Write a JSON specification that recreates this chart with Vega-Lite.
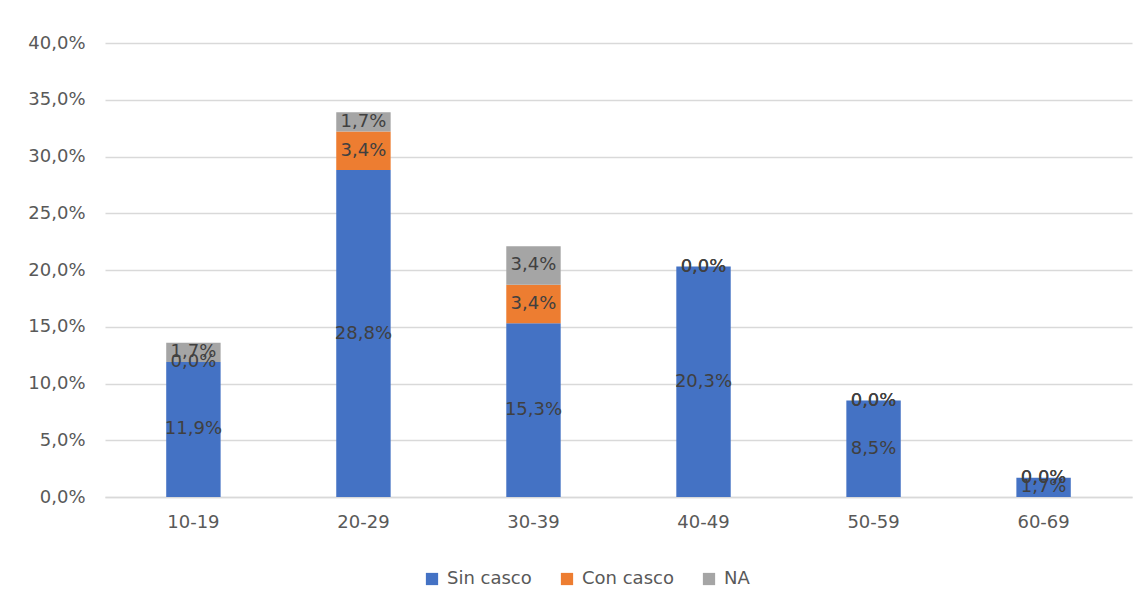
{
  "$schema": "https://vega.github.io/schema/vega-lite/v6.json",
  "autosize": {"type": "none"},
  "width": 1027,
  "height": 454,
  "padding": {"left": 105, "top": 43, "right": 14, "bottom": 115},
  "background": "white",
  "config": {
    "locale": {"number": {"decimal": ",", "thousands": ".", "grouping": [3], "currency": ["", " €"]}},
    "font": "DejaVu Sans",
    "view": {"stroke": null}
  },
  "data": {
    "values": [
      {"edad": "10-19", "grupo": "Sin casco", "orden": 1, "v": 0.119},
      {"edad": "10-19", "grupo": "Con casco", "orden": 2, "v": 0.0},
      {"edad": "10-19", "grupo": "NA", "orden": 3, "v": 0.017},
      {"edad": "20-29", "grupo": "Sin casco", "orden": 1, "v": 0.288},
      {"edad": "20-29", "grupo": "Con casco", "orden": 2, "v": 0.034},
      {"edad": "20-29", "grupo": "NA", "orden": 3, "v": 0.017},
      {"edad": "30-39", "grupo": "Sin casco", "orden": 1, "v": 0.153},
      {"edad": "30-39", "grupo": "Con casco", "orden": 2, "v": 0.034},
      {"edad": "30-39", "grupo": "NA", "orden": 3, "v": 0.034},
      {"edad": "40-49", "grupo": "Sin casco", "orden": 1, "v": 0.203},
      {"edad": "40-49", "grupo": "Con casco", "orden": 2, "v": 0.0},
      {"edad": "40-49", "grupo": "NA", "orden": 3, "v": 0.0},
      {"edad": "50-59", "grupo": "Sin casco", "orden": 1, "v": 0.085},
      {"edad": "50-59", "grupo": "Con casco", "orden": 2, "v": 0.0},
      {"edad": "50-59", "grupo": "NA", "orden": 3, "v": 0.0},
      {"edad": "60-69", "grupo": "Sin casco", "orden": 1, "v": 0.017},
      {"edad": "60-69", "grupo": "Con casco", "orden": 2, "v": 0.0},
      {"edad": "60-69", "grupo": "NA", "orden": 3, "v": 0.0}
    ]
  },
  "transform": [
    {"stack": "v", "groupby": ["edad"], "sort": [{"field": "orden", "order": "ascending"}], "as": ["y0", "y1"]},
    {"calculate": "(datum.y0 + datum.y1) / 2", "as": "ymid"}
  ],
  "encoding": {
    "x": {
      "field": "edad", "type": "nominal", "sort": null,
      "scale": {"paddingInner": 0.68, "paddingOuter": 0.36},
      "axis": {"title": null, "labelAngle": 0, "labelFontSize": 18, "labelColor": "#595959", "labelPadding": 16, "ticks": false, "domainColor": "#D9D9D9", "domainWidth": 1.5}
    }
  },
  "layer": [
    {
      "mark": {"type": "bar"},
      "encoding": {
        "y": {
          "field": "y0", "type": "quantitative",
          "scale": {"domain": [0, 0.4]},
          "axis": {"title": null, "format": ".1%", "values": [0, 0.05, 0.1, 0.15, 0.2, 0.25, 0.3, 0.35, 0.4], "labelOverlap": false, "labelFontSize": 18, "labelColor": "#595959", "labelPadding": 20, "ticks": false, "domain": false, "gridColor": "#D9D9D9", "gridWidth": 1.5}
        },
        "y2": {"field": "y1"},
        "color": {
          "field": "grupo", "type": "nominal",
          "scale": {"domain": ["Sin casco", "Con casco", "NA"], "range": ["#4472C4", "#ED7D31", "#A5A5A5"]},
          "legend": {"title": null, "orient": "none", "direction": "horizontal", "legendX": 318, "legendY": 527, "symbolType": "square", "symbolSize": 150, "symbolStrokeWidth": 0, "labelFontSize": 18, "labelColor": "#595959", "columnPadding": 26, "labelOffset": 6}
        }
      }
    },
    {
      "mark": {"type": "text", "fontSize": 18, "color": "#404040", "baseline": "middle"},
      "encoding": {
        "y": {"field": "ymid", "type": "quantitative"},
        "text": {"field": "v", "type": "quantitative", "format": ".1%"}
      }
    }
  ]
}
